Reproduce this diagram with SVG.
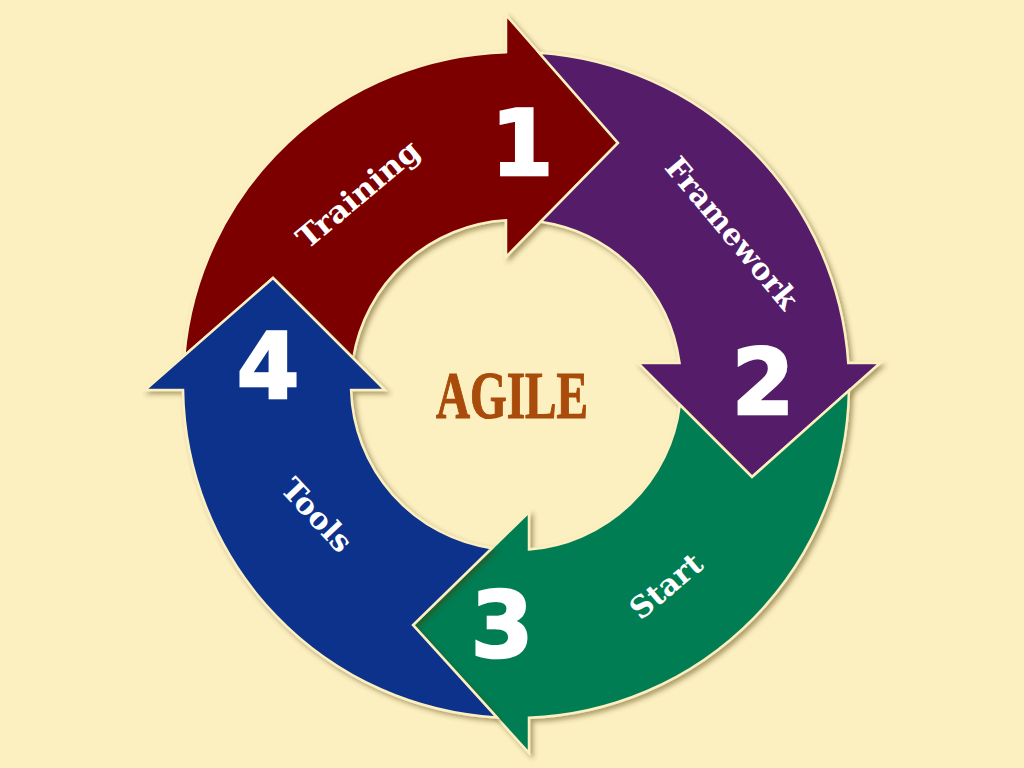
<svg xmlns="http://www.w3.org/2000/svg" width="1024" height="768" viewBox="0 0 1024 768">
  <defs>
    <filter id="sh" x="-10%" y="-10%" width="125%" height="125%">
      <feDropShadow dx="3" dy="3" stdDeviation="2.5" flood-color="#4a3a10" flood-opacity="0.45"/>
    </filter>
    <style>
      .arrow { stroke: #FCEFC0; stroke-width: 2.5; stroke-linejoin: miter; filter: url(#sh); }
      .num { font-family: "DejaVu Sans", "Liberation Sans", sans-serif; font-weight: bold; font-size: 90px; fill: #FFFFFF; stroke: #FFFFFF; stroke-width: 2.5; text-anchor: middle; }
      .lbl { font-family: "DejaVu Serif", "Liberation Serif", serif; font-weight: bold; font-size: 30px; fill: #FFFFFF; text-anchor: middle; dominant-baseline: central; }
      .title { font-family: "Liberation Serif", "DejaVu Serif", serif; font-weight: bold; font-size: 68px; fill: #A84B0B; stroke: #A84B0B; stroke-width: 1.2; text-anchor: middle; }
    </style>
  </defs>
  <rect x="0" y="0" width="1024" height="768" fill="#FCEFC0"/>

  <g id="connectors"></g>

  <g id="node-training">
    <path class="arrow" fill="#7D0202" d="M184.3,355.61 A333,333 0 0 1 506,52.15 L506,15 L618,143 L506,257 L506,220.3 A165,165 0 0 0 353.19,358.19 L273,278 Z"/>
    <text class="num" x="522" y="175">1</text>
    <text class="lbl" font-size="32" transform="translate(358,194) rotate(-40)" x="0" y="0" textLength="150" lengthAdjust="spacingAndGlyphs">Training</text>
  </g>

  <g id="node-framework">
    <path class="arrow" fill="#551B6A" d="M539.1,52.8 A333,333 0 0 1 848.27,363 L880,363 L752,477 L638,363 L679.53,363 A165,165 0 0 0 540.55,221.83 L618,143 Z"/>
    <text class="num" x="763" y="414">2</text>
    <text class="lbl" transform="translate(732,233) rotate(50)" x="0" y="0" textLength="188" lengthAdjust="spacingAndGlyphs">Framework</text>
  </g>

  <g id="node-start">
    <path class="arrow" fill="#067D52" d="M848.95,390.65 A333,333 0 0 1 529,717.75 L529,753 L413,625 L529,512 L529,549.49 A165,165 0 0 0 679.81,404.81 L752,477 Z"/>
    <text class="num" x="502" y="657">3</text>
    <text class="lbl" transform="translate(666,586) rotate(-40)" x="0" y="0" textLength="84" lengthAdjust="spacingAndGlyphs">Start</text>
  </g>

  <g id="node-tools">
    <path class="arrow" fill="#07318B" d="M496.78,717.44 A333,333 0 0 1 183.04,390 L145,390 L273,278 L385,390 L351.08,390 A165,165 0 0 0 491.82,548.22 L413,625 Z"/>
    <text class="num" x="268" y="398">4</text>
    <text class="lbl" transform="translate(317,515) rotate(47)" x="0" y="0" textLength="88" lengthAdjust="spacingAndGlyphs">Tools</text>
  </g>

  <g id="node-agile">
    <text class="title" x="512" y="418" textLength="152" lengthAdjust="spacingAndGlyphs">AGILE</text>
  </g>
</svg>
